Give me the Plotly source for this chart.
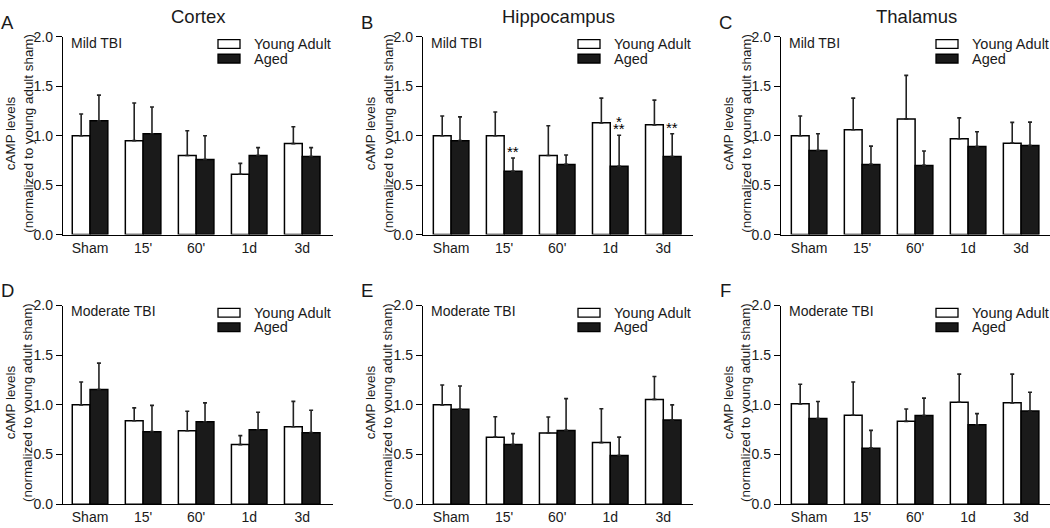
import plotly.graph_objects as go

# ---------------- data ----------------
categories = ["Sham", "15'", "60'", "1d", "3d"]

cortex_mild_young = [1.00, 0.95, 0.80, 0.61, 0.92]
cortex_mild_young_err = [0.22, 0.38, 0.25, 0.11, 0.17]
cortex_mild_aged = [1.15, 1.02, 0.76, 0.80, 0.79]
cortex_mild_aged_err = [0.26, 0.27, 0.24, 0.08, 0.09]

hippo_mild_young = [1.00, 1.00, 0.80, 1.13, 1.11]
hippo_mild_young_err = [0.20, 0.24, 0.30, 0.25, 0.25]
hippo_mild_aged = [0.95, 0.64, 0.71, 0.69, 0.79]
hippo_mild_aged_err = [0.24, 0.135, 0.095, 0.315, 0.23]

thal_mild_young = [1.00, 1.06, 1.17, 0.97, 0.925]
thal_mild_young_err = [0.20, 0.32, 0.44, 0.21, 0.21]
thal_mild_aged = [0.85, 0.71, 0.70, 0.89, 0.90]
thal_mild_aged_err = [0.17, 0.185, 0.145, 0.15, 0.237]

cortex_mod_young = [1.00, 0.84, 0.74, 0.60, 0.78]
cortex_mod_young_err = [0.23, 0.13, 0.195, 0.09, 0.255]
cortex_mod_aged = [1.155, 0.73, 0.83, 0.75, 0.72]
cortex_mod_aged_err = [0.265, 0.265, 0.19, 0.175, 0.225]

hippo_mod_young = [1.00, 0.675, 0.717, 0.62, 1.055]
hippo_mod_young_err = [0.20, 0.205, 0.16, 0.34, 0.23]
hippo_mod_aged = [0.955, 0.60, 0.743, 0.49, 0.847]
hippo_mod_aged_err = [0.235, 0.11, 0.32, 0.185, 0.153]

thal_mod_young = [1.01, 0.896, 0.834, 1.026, 1.02]
thal_mod_young_err = [0.198, 0.334, 0.124, 0.283, 0.289]
thal_mod_aged = [0.863, 0.564, 0.893, 0.80, 0.938]
thal_mod_aged_err = [0.17, 0.179, 0.175, 0.112, 0.189]

region_titles = ["Cortex", "Hippocampus", "Thalamus"]
panel_letters = ["A", "B", "C", "D", "E", "F"]
severity_labels = ["Mild TBI", "Moderate TBI"]
series_names = ["Young Adult", "Aged"]
y_tickvals = [0, 0.5, 1.0, 1.5, 2.0]
y_ticktext = ["0.0", "0.5", "1.0", "1.5", "2.0"]
y_title = "cAMP levels<br>(normalized to young adult sham)"

# significance marks (panel B: hippocampus mild, aged series)
sig_categories = [1, 3, 4]
sig_lines = [["**"], ["*", "**"], ["**"]]

panels = [
    (cortex_mild_young, cortex_mild_young_err, cortex_mild_aged, cortex_mild_aged_err),
    (hippo_mild_young, hippo_mild_young_err, hippo_mild_aged, hippo_mild_aged_err),
    (thal_mild_young, thal_mild_young_err, thal_mild_aged, thal_mild_aged_err),
    (cortex_mod_young, cortex_mod_young_err, cortex_mod_aged, cortex_mod_aged_err),
    (hippo_mod_young, hippo_mod_young_err, hippo_mod_aged, hippo_mod_aged_err),
    (thal_mod_young, thal_mod_young_err, thal_mod_aged, thal_mod_aged_err),
]

# ---------------- layout geometry (pixels) ----------------
W, H = 1050, 528
FONT = "Liberation Sans, Arial, Helvetica, sans-serif"
TXT = "#1a1a1a"
AGED_FILL = "#1a1a1a"

axis_left = [63, 423, 781, 63, 423, 781]
axis_right = [333, 693, 1050, 333, 693, 1050]
axis_top = [29.7, 29.7, 29.7, 306.8, 306.8, 306.8]
axis_bottom = [233.7, 233.7, 233.7, 511.7, 511.7, 511.7]
x_ranges = [[-0.51, 4.58], [-0.53, 4.56], [-0.53, 4.545]] * 2


def px(x):
    return x / W


def py(y):
    return 1 - y / H


fig = go.Figure()
layout = dict(
    width=W, height=H,
    margin=dict(l=0, r=0, t=0, b=0),
    paper_bgcolor="white", plot_bgcolor="white",
    barmode="group", bargap=0.33, bargroupgap=0,
    showlegend=False,
    font=dict(family=FONT, size=14, color=TXT),
)
annotations = []
shapes = []

for i, (yv, ye, av, ae) in enumerate(panels):
    n = "" if i == 0 else str(i + 1)
    xref, yref = "x" + n, "y" + n
    fig.add_trace(go.Bar(
        x=categories, y=yv, name=series_names[0], xaxis=xref, yaxis=yref,
        marker=dict(color="white", line=dict(color="black", width=1.5)),
        error_y=dict(type="data", symmetric=False, array=ye, arrayminus=[0] * len(ye),
                     color="#222222", thickness=1.6, width=2),
    ))
    fig.add_trace(go.Bar(
        x=categories, y=av, name=series_names[1], xaxis=xref, yaxis=yref,
        marker=dict(color=AGED_FILL, line=dict(color="black", width=1.5)),
        error_y=dict(type="data", symmetric=False, array=ae, arrayminus=[0] * len(ae),
                     color="#222222", thickness=1.6, width=2),
    ))
    L, R, T, B = axis_left[i], axis_right[i], axis_top[i], axis_bottom[i]
    layout["xaxis" + n] = dict(
        domain=[px(L), px(R)], anchor=yref, type="category", range=x_ranges[i],
        showline=True, linecolor="black", linewidth=1.3, ticks="",
        showgrid=False, zeroline=False, tickfont=dict(size=14, color=TXT),
        fixedrange=True,
    )
    layout["yaxis" + n] = dict(
        domain=[py(B), py(T)], anchor=xref, range=[0, 2],
        tickvals=y_tickvals, ticktext=y_ticktext,
        showline=True, linecolor="black", linewidth=1.3,
        ticks="outside", ticklen=6, tickwidth=1.3, tickcolor="black",
        showgrid=False, zeroline=False, tickfont=dict(size=14, color=TXT),
        fixedrange=True,
    )
    # y axis title
    annotations.append(dict(
        xref="paper", yref="paper", x=px(L - 44), y=py((T + B) / 2 - 2),
        text=y_title, textangle=-90, showarrow=False,
        xanchor="center", yanchor="middle",
        font=dict(size=13.4, color=TXT),
    ))
    # panel letter
    annotations.append(dict(
        xref="paper", yref="paper", x=px(L - 56), y=py(T - 15),
        text=panel_letters[i], showarrow=False, xanchor="center", yanchor="middle",
        font=dict(size=18.5, color=TXT),
    ))
    # severity label
    annotations.append(dict(
        xref="paper", yref="paper", x=px(L + 6), y=py(T + 6),
        text=severity_labels[i // 3], showarrow=False, xanchor="left", yanchor="middle",
        font=dict(size=14, color=TXT),
    ))
    # legend (boxes + labels)
    for k, (fill, dy) in enumerate([("white", 3), (AGED_FILL, 18)]):
        shapes.append(dict(
            type="rect", xref="paper", yref="paper",
            x0=px(L + 155), x1=px(L + 177), y0=py(T + dy + 9), y1=py(T + dy),
            fillcolor=fill, line=dict(color="black", width=1.3),
        ))
        annotations.append(dict(
            xref="paper", yref="paper", x=px(L + 189), y=py(T + dy + 4.5),
            text=series_names[k], showarrow=False, xanchor="left", yanchor="middle",
            font=dict(size=14.5, color=TXT),
        ))

# region titles
for j, t in enumerate(region_titles):
    annotations.append(dict(
        xref="paper", yref="paper", x=px((axis_left[j] + min(axis_right[j], 1051)) / 2 + (1 if j == 2 else 0)),
        y=py(9), text=t, showarrow=False, xanchor="center", yanchor="middle",
        font=dict(size=18.5, color=TXT),
    ))

# significance stars on hippocampus mild (panel B), aged bars
offset = (1 - 0.33) / 4
for c, lines in zip(sig_categories, sig_lines):
    top = hippo_mild_aged[c] + hippo_mild_aged_err[c]
    # small base font -> tight line spacing between stacked star rows
    txt = "<br>".join('<span style="font-size:15px">%s</span>' % s for s in lines)
    annotations.append(dict(
        xref="x2", yref="y2", x=c + offset, y=top, text=txt, showarrow=False,
        xanchor="center", yanchor="bottom", yshift=-4,
        font=dict(size=5, color="black"),
    ))

layout["annotations"] = annotations
layout["shapes"] = shapes
fig.update_layout(**layout)
fig.write_html(
    "out.html",
    config={"displayModeBar": False},
    post_script="document.body.style.margin='0';document.body.style.padding='0';",
)
